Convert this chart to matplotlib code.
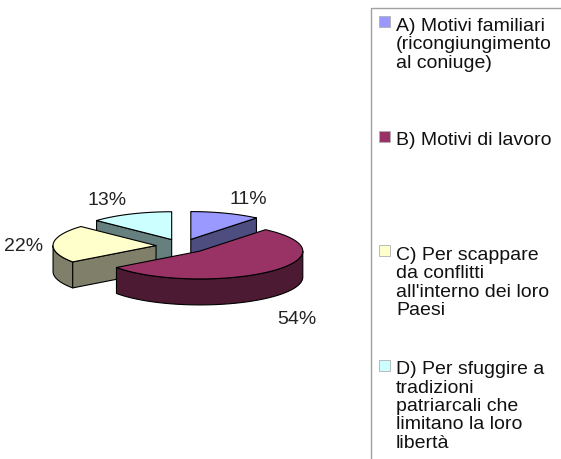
import numpy as np
import matplotlib

matplotlib.use('Agg')
from matplotlib import pyplot as plt
from matplotlib.patches import Polygon, Rectangle

# dati
categorie = [
    "A) Motivi familiari\n(ricongiungimento\nal coniuge)",
    "B) Motivi di lavoro",
    "C) Per scappare\nda conflitti\nall'interno dei loro\nPaesi",
    "D) Per sfuggire a\ntradizioni\npatriarcali che\nlimitano la loro\nlibertà",
]
percentuali = [11, 54, 22, 13]
etichette = ["11%", "54%", "22%", "13%"]
colori_top = ["#9999FF", "#993366", "#FFFFCC", "#CCFFFF"]
colori_lato = ["#4D4D80", "#4D1A33", "#80806A", "#668080"]

plt.rcParams['font.family'] = ['Liberation Sans', 'DejaVu Sans']

# geometria della torta (pixel)
cx, cy = 182, 247
R = 103
k = 0.27
h = 26
esplodi = 26


def proietta(x, y, z=0.0):
    return cx + x, cy - k * y + z


fig = plt.figure(figsize=(5.61, 4.60), dpi=100)
ax = fig.add_axes([0, 0, 1, 1])
ax.set_xlim(0, 561)
ax.set_ylim(460, 0)
ax.axis('off')

# angoli: partenza a ore 12, senso orario
fr = np.array(percentuali) / sum(percentuali)
fine = 90 - np.concatenate([[0], np.cumsum(fr)[:-1]]) * 360
inizio = fine - fr * 360

spicchi = []
for i in range(len(percentuali)):
    t1, t2 = inizio[i], fine[i]
    mid = np.radians((t1 + t2) / 2)
    ox, oy = esplodi * np.cos(mid), esplodi * np.sin(mid)
    spicchi.append((oy, i, t1, t2, mid, ox))

# disegno dal fondo verso il davanti
for oy, i, t1, t2, mid, ox in sorted(spicchi, reverse=True):
    lw = 0.8
    th = np.radians(np.linspace(t1, t2, 120))
    xs = ox + R * np.cos(th)
    ys = oy + R * np.sin(th)
    # lato esterno visibile (metà anteriore)
    front = np.sin(th) < 0
    if front.any():
        idx = np.where(front)[0]
        seg_x, seg_y = xs[idx], ys[idx]
        top = [proietta(a, b) for a, b in zip(seg_x, seg_y)]
        bot = [proietta(a, b, h) for a, b in zip(seg_x, seg_y)][::-1]
        ax.add_patch(Polygon(top + bot, closed=True, fc=colori_lato[i],
                             ec='black', lw=lw, joinstyle='round'))
    # facce radiali
    for ang, sgn in ((t1, -1), (t2, 1)):
        normale = np.radians(ang + sgn * 90)
        if np.sin(normale) < -1e-6:
            ex = ox + R * np.cos(np.radians(ang))
            ey = oy + R * np.sin(np.radians(ang))
            pts = [proietta(ox, oy), proietta(ex, ey),
                   proietta(ex, ey, h), proietta(ox, oy, h)]
            ax.add_patch(Polygon(pts, closed=True, fc=colori_lato[i],
                                 ec='black', lw=lw, joinstyle='round'))
    # superficie superiore
    pts = [proietta(ox, oy)] + [proietta(a, b) for a, b in zip(xs, ys)]
    ax.add_patch(Polygon(pts, closed=True, fc=colori_top[i],
                         ec='black', lw=lw, joinstyle='round'))

# etichette percentuali, appoggiate al bordo esterno
rl = R + esplodi + 10
for oy, i, t1, t2, mid, ox in spicchi:
    c, s = np.cos(mid), np.sin(mid)
    lx = cx + rl * c
    ly = cy + 3 - k * rl * s - 16 * s + (h + 4 if s < 0 else 0)
    ax.text(lx, ly, etichette[i], ha='left' if c > 0 else 'right',
            va='center', fontsize=14, color='#222222')

# legenda
ax.add_patch(Rectangle((371, 9), 200, 470, fc='white', ec='#A0A0A0', lw=1.0))
for i, testo in enumerate(categorie):
    y0 = 23 + i * 114.5
    ax.add_patch(Rectangle((379, y0 - 6), 11, 11, fc=colori_top[i],
                           ec='#B0B0B0', lw=0.6))
    ax.text(396, y0 - 5, testo, ha='left', va='top', fontsize=14,
            linespacing=1.1, color='#111111')

fig.savefig('out.png', dpi=100)
